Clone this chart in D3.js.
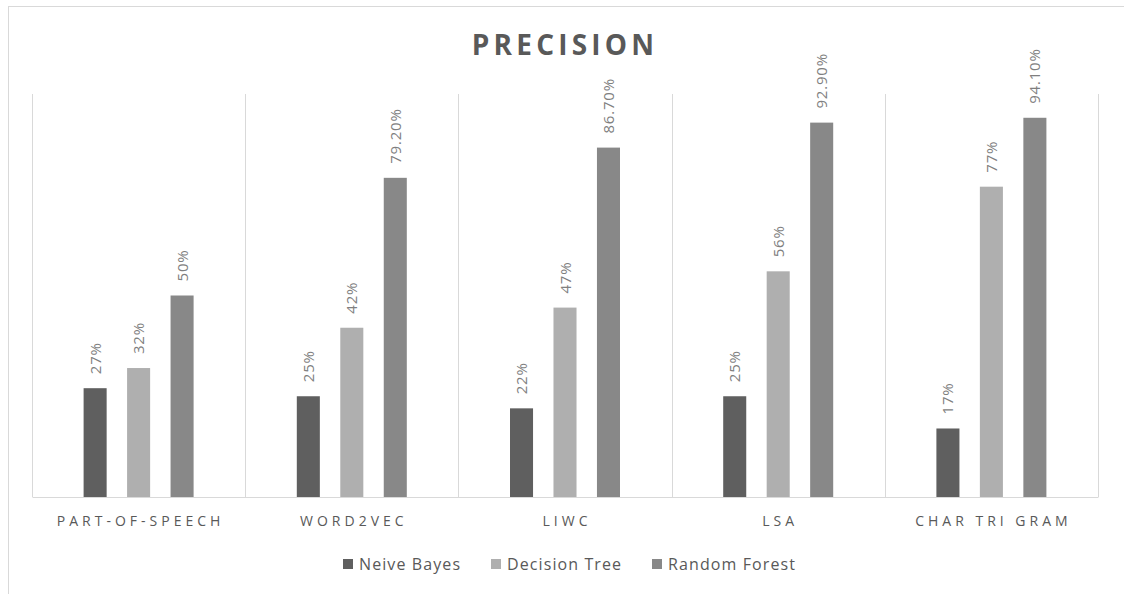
<!DOCTYPE html>
<html>
<head>
<meta charset="utf-8">
<script src="https://cdn.jsdelivr.net/npm/d3@7/dist/d3.min.js"></script>
<style>
  html, body { margin: 0; padding: 0; background: #fff; }
  svg { display: block; font-family: "Open Sans", "Noto Sans", sans-serif; }
</style>
</head>
<body>
<svg id="chart" width="1124" height="594"></svg>
<script>
// Precision of each classifier for every feature set
const categories = ["PART-OF-SPEECH", "WORD2VEC", "LIWC", "LSA", "CHAR TRI GRAM"];
const series = ["Neive Bayes", "Decision Tree", "Random Forest"];
const neiveBayes    = [0.27, 0.25, 0.22, 0.25, 0.17];
const decisionTree  = [0.32, 0.42, 0.47, 0.56, 0.77];
const randomForest  = [0.50, 0.792, 0.867, 0.929, 0.941];
const valueLabels = [
  ["27%", "25%", "22%", "25%", "17%"],
  ["32%", "42%", "47%", "56%", "77%"],
  ["50%", "79.20%", "86.70%", "92.90%", "94.10%"]
];
const colors = ["#5f5f5f", "#afafaf", "#888888"];

const values = [neiveBayes, decisionTree, randomForest];
const rows = [];
series.forEach((s, si) => {
  categories.forEach((c, ci) => {
    rows.push({ series: s, si, category: c, value: values[si][ci], label: valueLabels[si][ci] });
  });
});

const svg = d3.select("#chart");

// outer chart frame
svg.append("rect")
  .attr("x", 8.5).attr("y", 6.5)
  .attr("width", 1140).attr("height", 620)
  .attr("fill", "none").attr("stroke", "#d9d9d9").attr("stroke-width", 1);

const plot = { left: 32, right: 1098, top: 94, bottom: 497 };

const x0 = d3.scaleBand()
  .domain(categories)
  .range([plot.left, plot.right])
  .padding(0);

const y = d3.scaleLinear()
  .domain([0, 1])
  .range([plot.bottom, plot.top]);

const x1 = d3.scaleBand()
  .domain(series)
  .range([-55, 55])
  .paddingInner(0.47)
  .paddingOuter(0);

// title
svg.append("text")
  .attr("x", 565).attr("y", 55)
  .attr("text-anchor", "middle")
  .attr("font-size", 28)
  .attr("font-weight", "bold")
  .attr("letter-spacing", 4.2)
  .attr("fill", "#595959")
  .text("PRECISION");

// category separators
const edges = categories.map(c => x0(c)).concat([plot.right]);
svg.append("g").selectAll("line")
  .data(edges)
  .join("line")
  .attr("x1", d => Math.round(d) + 0.5).attr("x2", d => Math.round(d) + 0.5)
  .attr("y1", plot.top).attr("y2", plot.bottom)
  .attr("stroke", "#d9d9d9").attr("stroke-width", 1);

// category axis
const xAxis = svg.append("g")
  .attr("transform", `translate(0,${plot.bottom})`)
  .call(d3.axisBottom(x0).tickSize(0).tickPadding(19));
xAxis.select(".domain").attr("stroke", "#d9d9d9");
xAxis.selectAll("text")
  .attr("font-size", 14)
  .attr("letter-spacing", 4)
  .attr("fill", "#595959")
  .attr("dx", 2)
  .attr("font-family", "\"Open Sans\", sans-serif");

// bars
const barX = d => x0(d.category) + x0.bandwidth() / 2 + x1(d.series);
svg.append("g").selectAll("rect")
  .data(rows)
  .join("rect")
  .attr("x", barX)
  .attr("y", d => y(d.value))
  .attr("width", x1.bandwidth())
  .attr("height", d => y(0) - y(d.value))
  .attr("fill", d => colors[d.si]);

// rotated value labels
svg.append("g").selectAll("text")
  .data(rows)
  .join("text")
  .attr("transform", d => `translate(${barX(d) + x1.bandwidth() / 2 + 5.5},${y(d.value) - 14}) rotate(-90)`)
  .attr("font-size", 15)
  .attr("letter-spacing", 0.8)
  .attr("fill", "#7f7f7f")
  .text(d => d.label);

// legend
const legendX = [343, 491, 652];
const legend = svg.append("g").selectAll("g")
  .data(series)
  .join("g")
  .attr("transform", (d, i) => `translate(${legendX[i]},559)`);
legend.append("rect")
  .attr("width", 10).attr("height", 10)
  .attr("fill", (d, i) => colors[i]);
legend.append("text")
  .attr("x", 16).attr("y", 11)
  .attr("font-size", 16)
  .attr("letter-spacing", 1.1)
  .attr("fill", "#595959")
  .text(d => d);
</script>
</body>
</html>
